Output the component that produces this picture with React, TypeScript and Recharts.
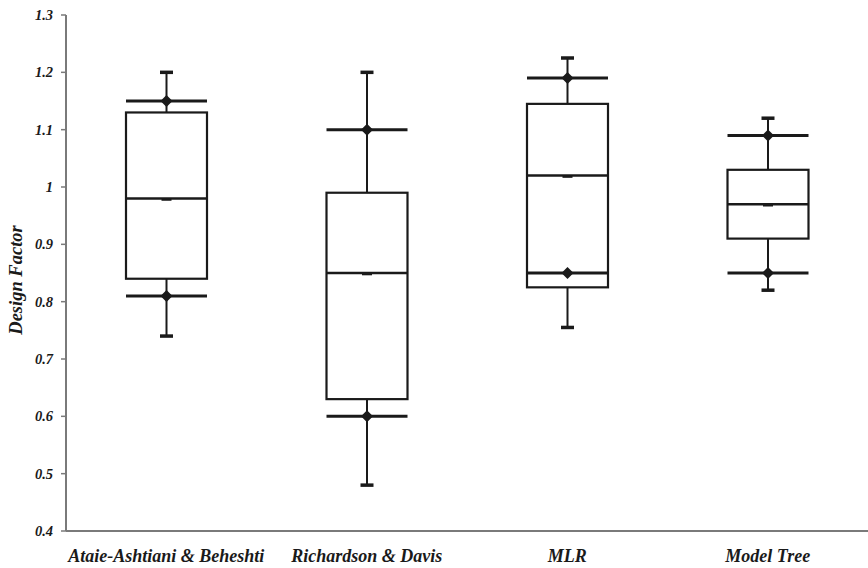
import { ComposedChart, Bar, XAxis, YAxis, Label } from "recharts";

const categories = ["Ataie-Ashtiani & Beheshti", "Richardson & Davis", "MLR", "Model Tree"];
const minVals = [0.74, 0.48, 0.755, 0.82];
const lowMarks = [0.81, 0.6, 0.85, 0.85];
const q1Vals = [0.84, 0.63, 0.825, 0.91];
const medians = [0.98, 0.85, 1.02, 0.97];
const q3Vals = [1.13, 0.99, 1.145, 1.03];
const highMarks = [1.15, 1.1, 1.19, 1.09];
const maxVals = [1.2, 1.2, 1.225, 1.12];
const yTicks = [0.4, 0.5, 0.6, 0.7, 0.8, 0.9, 1, 1.1, 1.2, 1.3];

const data = categories.map((name, i) => ({
  name,
  min: minVals[i],
  low: lowMarks[i],
  q1: q1Vals[i],
  median: medians[i],
  q3: q3Vals[i],
  high: highMarks[i],
  max: maxVals[i],
}));

const FONT = "'Liberation Serif', 'Times New Roman', serif";
const INK = "#1a1a1a";

function BoxShape(props: any) {
  const { x, y, width, height, payload } = props;
  const top = Math.min(y, y + height);
  const h = Math.abs(height);
  const bottom = top + h;
  const { min, max } = payload;
  const py = (v: number) => bottom - ((v - min) / (max - min)) * h;
  const cx = x + width / 2;
  const cap = 13;
  const d = 6;
  const diamond = (v: number) => {
    const yy = py(v);
    return `M${cx},${yy - d} L${cx + d},${yy} L${cx},${yy + d} L${cx - d},${yy} Z`;
  };
  return (
    <g>
      <line x1={cx} x2={cx} y1={py(max)} y2={py(payload.q3)} stroke={INK} strokeWidth={2} />
      <line x1={cx} x2={cx} y1={py(payload.q1)} y2={py(min)} stroke={INK} strokeWidth={2} />
      <line x1={cx - cap / 2} x2={cx + cap / 2} y1={py(max)} y2={py(max)} stroke={INK} strokeWidth={3.5} />
      <line x1={cx - cap / 2} x2={cx + cap / 2} y1={py(min)} y2={py(min)} stroke={INK} strokeWidth={3.5} />
      <rect
        x={x}
        y={py(payload.q3)}
        width={width}
        height={py(payload.q1) - py(payload.q3)}
        fill="#fff"
        stroke={INK}
        strokeWidth={2.2}
      />
      <line x1={x} x2={x + width} y1={py(payload.median)} y2={py(payload.median)} stroke={INK} strokeWidth={2.6} />
      <line x1={cx - 5} x2={cx + 5} y1={py(payload.median) + 1} y2={py(payload.median) + 1} stroke={INK} strokeWidth={2.6} />
      <line x1={x} x2={x + width} y1={py(payload.high)} y2={py(payload.high)} stroke={INK} strokeWidth={3} />
      <line x1={x} x2={x + width} y1={py(payload.low)} y2={py(payload.low)} stroke={INK} strokeWidth={3} />
      <path d={diamond(payload.high)} fill={INK} />
      <path d={diamond(payload.low)} fill={INK} />
    </g>
  );
}

function XTick(props: any) {
  const { x, y, payload } = props;
  return (
    <text
      x={x}
      y={y + 31}
      textAnchor="middle"
      fontFamily={FONT}
      fontWeight="bold"
      fontStyle="italic"
      fontSize={18}
      fill={INK}
    >
      {payload.value}
    </text>
  );
}

function YTitle(props: any) {
  const { viewBox } = props;
  const cx = 16;
  const cy = viewBox.y + viewBox.height / 2 + 7;
  return (
    <text
      x={cx}
      y={cy}
      transform={`rotate(-90, ${cx}, ${cy})`}
      textAnchor="middle"
      dominantBaseline="central"
      fontFamily={FONT}
      fontWeight="bold"
      fontStyle="italic"
      fontSize={18.5}
      fill={INK}
    >
      Design Factor
    </text>
  );
}

export default function App() {
  return (
    <div style={{ position: "absolute", left: 0, top: 0, background: "#fff" }}>
      <ComposedChart
        width={868}
        height={568}
        data={data}
        margin={{ top: 15, right: 0, bottom: 0, left: 0 }}
      >
        <XAxis
          dataKey="name"
          height={37}
          tickSize={0}
          tickMargin={0}
          tick={<XTick />}
          axisLine={{ stroke: "#7a7a7a", strokeWidth: 2 }}
          tickLine={false}
          interval={0}
        />
        <YAxis
          width={66}
          domain={[0.4, 1.3]}
          ticks={yTicks}
          allowDataOverflow
          tickSize={5}
          tickMargin={8}
          tickFormatter={(v: number) => String(v)}
          tick={{ fontFamily: FONT, fontWeight: "bold", fontStyle: "italic", fontSize: 14.5, fill: INK }}
          axisLine={{ stroke: "#7a7a7a", strokeWidth: 2 }}
          tickLine={{ stroke: "#7a7a7a", strokeWidth: 1.5 }}
        >
          <Label content={<YTitle />} />
        </YAxis>
        <Bar
          dataKey={(d: any) => [d.min, d.max]}
          barSize={81}
          shape={<BoxShape />}
          isAnimationActive={false}
        />
      </ComposedChart>
    </div>
  );
}
